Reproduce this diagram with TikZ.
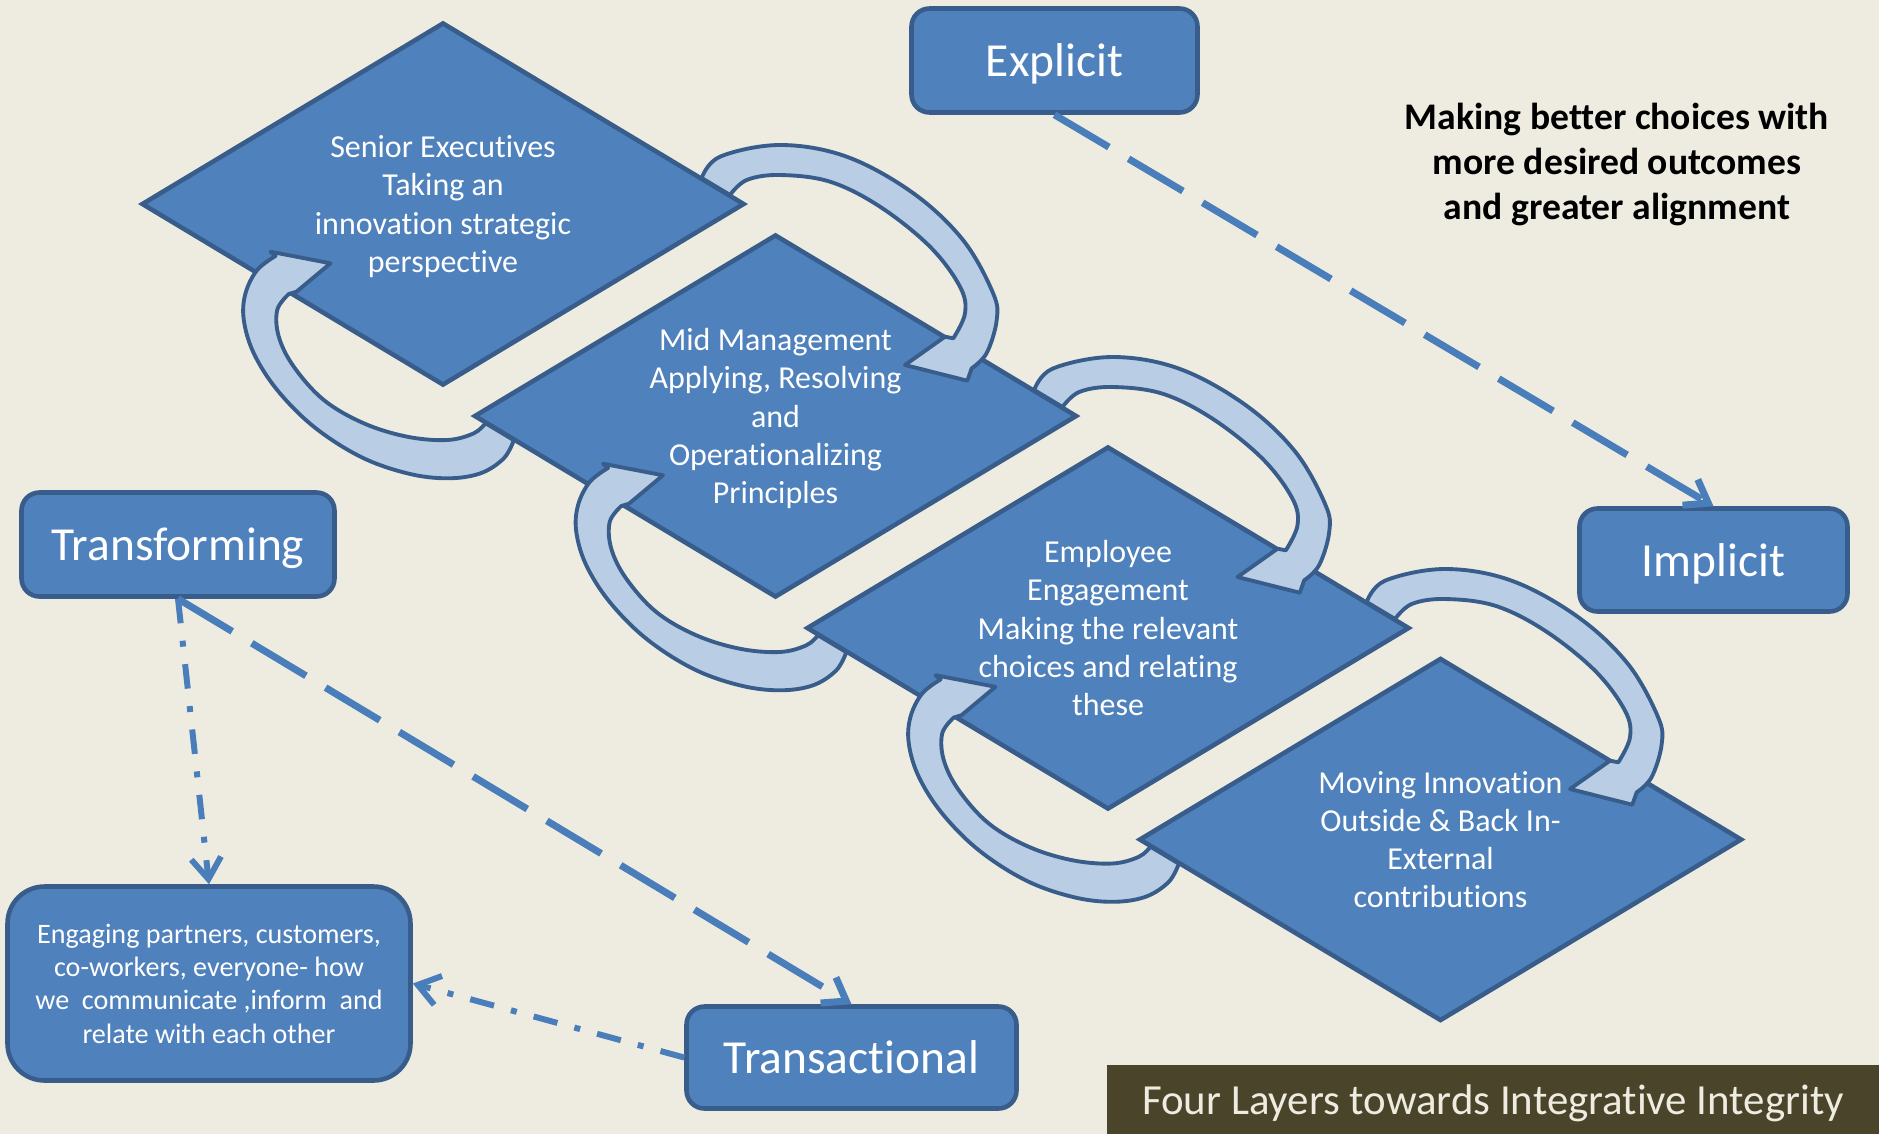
\documentclass[tikz,border=0pt]{standalone}
\usepackage{fontspec}
\setmainfont[Ligatures=NoCommon]{Carlito}
\usetikzlibrary{shapes.geometric,arrows.meta}

\definecolor{paper}{HTML}{EEECE1}
\definecolor{layerblue}{HTML}{4F81BD}
\definecolor{layeredge}{HTML}{385D8A}
\definecolor{loopfill}{HTML}{B9CDE5}
\definecolor{linkblue}{HTML}{4A7EBB}
\definecolor{olivebar}{HTML}{4A452A}

\tikzset{
  layerdiamond/.style={diamond, shape aspect=1.66, draw=layeredge, fill=layerblue, line width=1.3pt,
    minimum width=6.03cm, minimum height=3.63cm, inner sep=0pt, text=white, text depth=0pt,
    align=center, font=\fontsize{9.1}{10.9}\selectfont},
  labelbox/.style={rectangle, rounded corners=0.18cm, draw=layeredge, fill=layerblue,
    line width=1.3pt, text=white, text depth=0pt, align=center, font=\fontsize{13.5}{16}\selectfont},
  cyclearrow/.style={draw=layeredge, fill=loopfill, line width=1.1pt, line join=round},
  dashlink/.style={draw=linkblue, line width=2pt, dash pattern=on 18pt off 6.5pt,
    -{Straight Barb[length=6pt,width=8.5pt]}},
  dotlink/.style={draw=linkblue, line width=1.7pt, dash pattern=on 7pt off 5pt on 1.7pt off 5pt,
    -{Straight Barb[length=6pt,width=8.5pt]}},
  % curved arrow on the right, from an upper diamond down to the next one
  downloop/.pic={
    \path[cyclearrow] plot[smooth,tension=0.6] coordinates {(2.587,0.26) (2.77,0.473) (3.37,0.59)
      (4.037,0.473) (4.70,0.11) (5.20,-0.36) (5.50,-0.89) (5.537,-1.16) (5.437,-1.49) (5.287,-1.643)}
      -- (5.243,-1.767) -- (4.62,-1.61) -- (5.02,-1.327)
      -- plot[smooth,tension=0.6] coordinates {(5.103,-1.343) (5.22,-1.093) (5.17,-0.827) (4.87,-0.427)
      (4.37,-0.027) (3.87,0.223) (3.37,0.29) (3.037,0.24) (2.87,0.09)} -- cycle;
  },
  % curved arrow on the left, from a lower diamond back up
  uploop/.pic={
    \path[cyclearrow] plot[smooth,tension=0.6] coordinates {(-2.617,-0.242) (-2.717,-0.423) (-2.95,-0.573)
      (-3.283,-0.623) (-3.683,-0.573) (-4.15,-0.407) (-4.617,-0.107) (-4.983,0.26) (-5.217,0.627)
      (-5.317,0.96) (-5.30,1.227) (-5.183,1.46) (-5.00,1.60)}
      -- (-5.05,1.643) -- (-4.45,1.527) -- (-4.79,1.243)
      -- plot[smooth,tension=0.6] coordinates {(-4.867,1.22) (-4.983,1.06) (-4.967,0.793) (-4.817,0.493)
      (-4.517,0.16) (-4.117,-0.073) (-3.683,-0.207) (-3.283,-0.24) (-3.017,-0.173) (-2.90,-0.072)} -- cycle;
  }
}

\begin{document}
\begin{tikzpicture}
\fill [paper] (0,0) rectangle (18.79,-11.34);
\useasboundingbox (0,0) rectangle (18.79,-11.34);

\node [layerdiamond] (senior) at (4.43,-2.04) {Senior Executives\\Taking an\\innovation strategic\\perspective};
\node [layerdiamond] (mid) at (7.755,-4.16) {Mid Management\\Applying, Resolving\\and\\Operationalizing\\Principles};
\node [layerdiamond] (employee) at (11.08,-6.28) {Employee\\Engagement\\Making the relevant\\choices and relating\\these};
\node [layerdiamond] (moving) at (14.405,-8.395) {Moving Innovation\\Outside \& Back In-\\External\\contributions};

\pic at (senior.center) {downloop};
\pic at (mid.center) {downloop};
\pic at (employee.center) {downloop};
\pic at (mid.center) {uploop};
\pic at (employee.center) {uploop};
\pic at (moving.center) {uploop};

\node [labelbox, minimum width=2.86cm, minimum height=1.04cm] (explicit) at (10.545,-0.605) {Explicit};
\node [labelbox, minimum width=2.68cm, minimum height=1.03cm] (implicit) at (17.135,-5.60) {Implicit};
\node [labelbox, minimum width=3.13cm, minimum height=1.04cm] (transforming) at (1.78,-5.445) {Transforming};
\node [labelbox, minimum width=3.30cm, minimum height=1.02cm] (transactional) at (8.515,-10.575) {Transactional};
\node [labelbox, rounded corners=0.37cm, minimum width=4.03cm, minimum height=1.94cm,
  font=\fontsize{8}{9.5}\selectfont] (engaging) at (2.09,-9.835)
  {Engaging partners, customers,\\co-workers, everyone- how\\we~ communicate ,inform~ and\\relate with each other};

\node [align=center, font=\bfseries\fontsize{10.7}{12.75}\selectfont] (choices) at (16.17,-1.645)
  {Making better choices with\\more desired outcomes\\and greater alignment};

\fill [olivebar] (11.07,-10.65) rectangle (18.79,-11.34);
\node [text=paper, font=\fontsize{12.2}{14}\selectfont] (title) at (14.93,-11.03)
  {Four Layers towards Integrative Integrity};

\draw [dashlink] (explicit.south) -- (implicit.north);
\draw [dashlink] (transforming.south) -- (transactional.north);
\draw [dotlink] (transforming.south) -- (engaging.north);
\draw [dotlink] (transactional.west) -- (engaging.east);
\end{tikzpicture}
\end{document}
